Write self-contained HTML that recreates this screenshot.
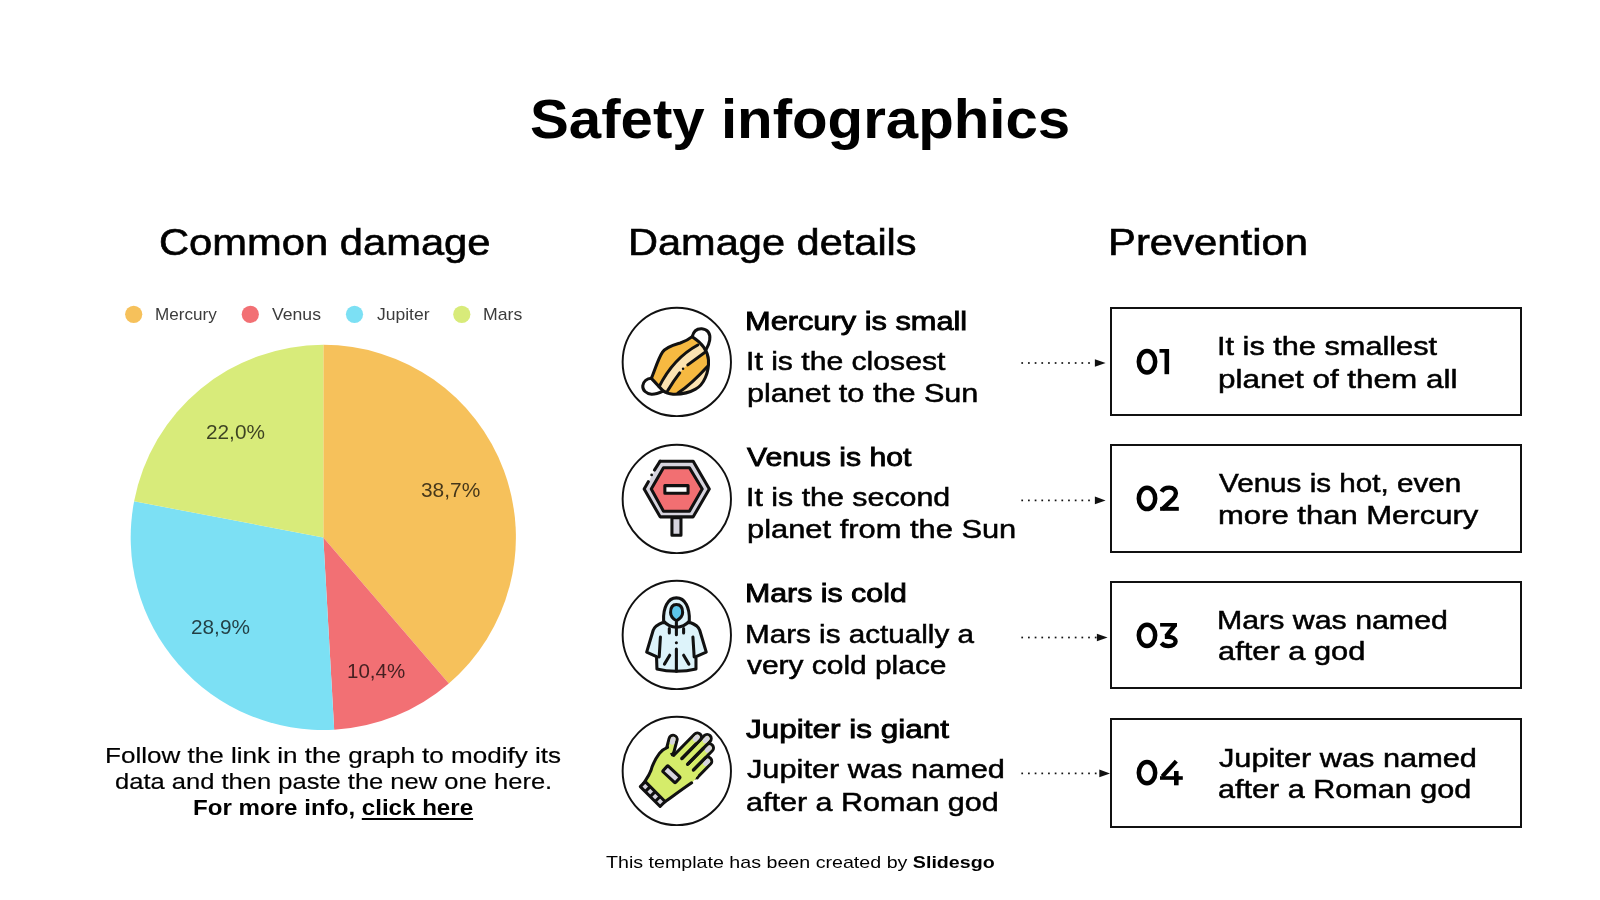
<!DOCTYPE html><html><head><meta charset="utf-8"><style>
*{margin:0;padding:0;box-sizing:border-box}
html,body{width:1600px;height:900px;overflow:hidden;background:#fff}
body{position:relative;font-family:"Liberation Sans",sans-serif;color:#000}
.t{position:absolute;white-space:nowrap;line-height:1;transform-origin:0 0;will-change:transform}
.box{position:absolute;border:2px solid #111;background:#fff}
.ic{position:absolute;width:125px;height:125px}
svg{display:block}
u{text-decoration-thickness:2px;text-underline-offset:3px}
</style></head><body><svg style="position:absolute;left:0;top:0" width="1600" height="900"><path d="M323.30 537.40 L323.30 344.80 A192.6 192.6 0 0 1 448.84 683.46 Z" fill="#F6C15B"/><path d="M323.30 537.40 L448.84 683.46 A192.6 192.6 0 0 1 334.19 729.69 Z" fill="#F27074"/><path d="M323.30 537.40 L334.19 729.69 A192.6 192.6 0 0 1 134.11 501.31 Z" fill="#7CE0F4"/><path d="M323.30 537.40 L134.11 501.31 A192.6 192.6 0 0 1 323.30 344.80 Z" fill="#D8EB7A"/><circle cx="133.7" cy="314.3" r="8.6" fill="#F6C15B"/><circle cx="250.3" cy="314.3" r="8.6" fill="#F27074"/><circle cx="354.5" cy="314.3" r="8.6" fill="#7CE0F4"/><circle cx="461.8" cy="314.3" r="8.6" fill="#D8EB7A"/></svg>
<div class="box" style="left:1110px;top:306.9px;width:412px;height:109.6px"></div>
<div class="box" style="left:1110px;top:444.0px;width:412px;height:108.5px"></div>
<div class="box" style="left:1110px;top:580.9px;width:412px;height:108.6px"></div>
<div class="box" style="left:1110px;top:717.5px;width:412px;height:110.0px"></div>
<svg style="position:absolute;left:0;top:0" width="1600" height="900"><rect x="1021.35" y="362.15" width="1.7" height="1.7" fill="#111"/><rect x="1028.03" y="362.15" width="1.7" height="1.7" fill="#111"/><rect x="1034.71" y="362.15" width="1.7" height="1.7" fill="#111"/><rect x="1041.39" y="362.15" width="1.7" height="1.7" fill="#111"/><rect x="1048.07" y="362.15" width="1.7" height="1.7" fill="#111"/><rect x="1054.75" y="362.15" width="1.7" height="1.7" fill="#111"/><rect x="1061.43" y="362.15" width="1.7" height="1.7" fill="#111"/><rect x="1068.11" y="362.15" width="1.7" height="1.7" fill="#111"/><rect x="1074.79" y="362.15" width="1.7" height="1.7" fill="#111"/><rect x="1081.47" y="362.15" width="1.7" height="1.7" fill="#111"/><rect x="1088.15" y="362.15" width="1.7" height="1.7" fill="#111"/><path d="M1094.9 359.2 L1105.6 363.0 L1094.9 366.8 Z" fill="#111"/><rect x="1021.35" y="499.55" width="1.7" height="1.7" fill="#111"/><rect x="1028.03" y="499.55" width="1.7" height="1.7" fill="#111"/><rect x="1034.71" y="499.55" width="1.7" height="1.7" fill="#111"/><rect x="1041.39" y="499.55" width="1.7" height="1.7" fill="#111"/><rect x="1048.07" y="499.55" width="1.7" height="1.7" fill="#111"/><rect x="1054.75" y="499.55" width="1.7" height="1.7" fill="#111"/><rect x="1061.43" y="499.55" width="1.7" height="1.7" fill="#111"/><rect x="1068.11" y="499.55" width="1.7" height="1.7" fill="#111"/><rect x="1074.79" y="499.55" width="1.7" height="1.7" fill="#111"/><rect x="1081.47" y="499.55" width="1.7" height="1.7" fill="#111"/><rect x="1088.15" y="499.55" width="1.7" height="1.7" fill="#111"/><path d="M1094.9 496.6 L1105.6 500.4 L1094.9 504.2 Z" fill="#111"/><rect x="1021.35" y="636.65" width="1.7" height="1.7" fill="#111"/><rect x="1028.03" y="636.65" width="1.7" height="1.7" fill="#111"/><rect x="1034.71" y="636.65" width="1.7" height="1.7" fill="#111"/><rect x="1041.39" y="636.65" width="1.7" height="1.7" fill="#111"/><rect x="1048.07" y="636.65" width="1.7" height="1.7" fill="#111"/><rect x="1054.75" y="636.65" width="1.7" height="1.7" fill="#111"/><rect x="1061.43" y="636.65" width="1.7" height="1.7" fill="#111"/><rect x="1068.11" y="636.65" width="1.7" height="1.7" fill="#111"/><rect x="1074.79" y="636.65" width="1.7" height="1.7" fill="#111"/><rect x="1081.47" y="636.65" width="1.7" height="1.7" fill="#111"/><rect x="1088.15" y="636.65" width="1.7" height="1.7" fill="#111"/><rect x="1094.83" y="636.65" width="1.7" height="1.7" fill="#111"/><path d="M1096.9 633.7 L1107.6 637.5 L1096.9 641.3 Z" fill="#111"/><rect x="1021.35" y="772.55" width="1.7" height="1.7" fill="#111"/><rect x="1028.03" y="772.55" width="1.7" height="1.7" fill="#111"/><rect x="1034.71" y="772.55" width="1.7" height="1.7" fill="#111"/><rect x="1041.39" y="772.55" width="1.7" height="1.7" fill="#111"/><rect x="1048.07" y="772.55" width="1.7" height="1.7" fill="#111"/><rect x="1054.75" y="772.55" width="1.7" height="1.7" fill="#111"/><rect x="1061.43" y="772.55" width="1.7" height="1.7" fill="#111"/><rect x="1068.11" y="772.55" width="1.7" height="1.7" fill="#111"/><rect x="1074.79" y="772.55" width="1.7" height="1.7" fill="#111"/><rect x="1081.47" y="772.55" width="1.7" height="1.7" fill="#111"/><rect x="1088.15" y="772.55" width="1.7" height="1.7" fill="#111"/><rect x="1094.83" y="772.55" width="1.7" height="1.7" fill="#111"/><path d="M1099.3 769.6 L1110.0 773.4 L1099.3 777.2 Z" fill="#111"/></svg>
<svg style="position:absolute;left:0;top:0" width="1600" height="900"><ellipse cx="1147" cy="361.70" rx="8.2" ry="10.70" fill="none" stroke="#000" stroke-width="4.5"/><rect x="1164.5" y="349" width="4.6" height="25.2"/><rect x="1159.5" y="349" width="9.5" height="3.7"/><ellipse cx="1147" cy="498.43" rx="8.2" ry="10.68" fill="none" stroke="#000" stroke-width="4.5"/><path d="M1161.6 491.8 C1163 488.9 1166 487.6 1169.2 487.6 C1173.6 487.6 1175.9 490.2 1175.9 493.3 C1175.9 495.3 1175 497 1173 499 L1162.4 509.2" fill="none" stroke="#000" stroke-width="4.4"/><rect x="1160.1" y="506.9" width="18.7" height="3.9"/><ellipse cx="1147" cy="635.35" rx="8.2" ry="10.65" fill="none" stroke="#000" stroke-width="4.5"/><rect x="1160.1" y="623" width="16.9" height="3.6"/><path d="M1171.4 626 L1177 626 L1170.2 634.8 L1164.8 638.8 L1164.8 634.6 Z"/><path d="M1165 636.8 L1168.5 636.8 C1172.8 636.8 1175.6 638.9 1175.6 641.5 C1175.6 644.2 1172.8 646.1 1168.5 646.1 C1165.5 646.1 1163 645 1161.3 643" fill="none" stroke="#000" stroke-width="4.3"/><ellipse cx="1147" cy="772.65" rx="8.2" ry="10.65" fill="none" stroke="#000" stroke-width="4.5"/><path d="M1176.3 761.2 L1162.3 776.5" fill="none" stroke="#000" stroke-width="4.2"/><rect x="1160" y="776.2" width="22.8" height="3.6"/><rect x="1174" y="771" width="4.6" height="14.3"/></svg>
<svg class="ic" style="left:615px;top:300px" viewBox="0 0 900 900"><circle cx="445" cy="446" r="390" fill="#fff" stroke="#111" stroke-width="14"/>
<defs><clipPath id="mclip"><path d="M262 564 C285 510 312 420 342 376 C372 335 430 322 470 310 C505 298 530 285 556 264 C612 300 668 350 673 432 C678 520 640 610 580 642 C540 665 480 680 418 678 C390 676 362 666 346 654 Z"/></clipPath></defs>
<path d="M262 564 C285 510 312 420 342 376 C372 335 430 322 470 310 C505 298 530 285 556 264 C612 300 668 350 673 432 C678 520 640 610 580 642 C540 665 480 680 418 678 C390 676 362 666 346 654 Z" fill="#F6B941"/>
<g clip-path="url(#mclip)">
  <path d="M290 680 L318 624 Q420 420 596 324 L720 250 L700 340 L646 378 L526 465 L490 495 L466 525 L379 654 L340 700 Z" fill="#FCE3B1"/>
  <path d="M454 669 Q545 610 664 480 L740 440 L740 740 L420 740 Z" fill="#FCE3B1"/>
</g>
<g stroke="#111" stroke-width="22" stroke-linecap="round" stroke-linejoin="round" fill="none">
  <path d="M318 624 Q420 420 596 324"/>
  <path d="M379 654 Q420 585 466 525"/>
  <path d="M524 467 L646 378"/>
  <path d="M454 669 Q545 610 664 480"/>
  <path d="M262 564 C285 510 312 420 342 376 C372 335 430 322 470 310 C505 298 530 285 556 264 C612 300 668 350 673 432 C678 520 640 610 580 642 C540 665 480 680 418 678 C390 676 362 666 346 654 Z"/>
  <path d="M556 264 C565 225 590 205 625 207 C665 210 690 240 682 288 C678 315 668 335 657 354"/>
  <path d="M262 564 C230 565 205 585 200 618 C198 650 225 675 262 678 C290 680 320 668 346 656"/>
</g>
<circle cx="490" cy="495" r="9" fill="#111"/>
</svg>
<svg class="ic" style="left:615px;top:437px" viewBox="0 0 900 900"><circle cx="445" cy="446" r="390" fill="#fff" stroke="#111" stroke-width="14"/>
<g stroke="#111" stroke-width="22" stroke-linejoin="round" stroke-linecap="round">
  <rect x="410" y="582" width="65" height="126" fill="#D6D4DE"/>
  <path d="M325 174 L563 174 L679 374 L563 575 L325 575 L210 374 Z" fill="#D6D4DE" stroke="none"/>
  <path d="M325 174 L563 174 L679 374 L563 575 L325 575 L210 374 L240 322" fill="none"/>
  <path d="M325 174 L284 238" fill="none"/>
  <path d="M349 221 L536 221 L628 374 L536 534 L349 534 L261 374 Z" fill="#F26F72"/>
  <rect x="359" y="350" width="167" height="55" fill="#fff"/>
</g>
<circle cx="264" cy="273" r="10" fill="#111"/>
</svg>
<svg class="ic" style="left:615px;top:573px" viewBox="0 0 900 900"><circle cx="445" cy="446" r="390" fill="#fff" stroke="#111" stroke-width="14"/>
<g stroke="#111" stroke-width="22" stroke-linejoin="round" stroke-linecap="round">
  <path d="M340 358 C320 365 310 372 298 381 C285 392 280 400 275 412 L228 570 L299 602 L302 691 C350 703 400 707 442 707 C485 707 535 703 583 691 L583 602 L657 570 L610 412 C605 400 600 392 588 381 C575 372 565 365 545 358 Z" fill="#DDF3FA"/>
  <path d="M350 345 C345 250 380 179 442 179 C505 179 540 250 535 345 C510 375 470 390 442 390 C415 390 375 375 350 345 Z" fill="#DDF3FA"/>
  <path d="M442 227 C475 227 487 255 487 285 C487 310 465 332 442 344 C420 332 400 310 400 285 C400 255 410 227 442 227 Z" fill="#5DC6EA"/>
  <path d="M442 355 L442 445 M442 547 L442 707 M391 400 L391 432 M494 400 L494 432 M394 592 L356 656 M494 592 L532 656 M327 461 L318 605 M561 461 L570 605" fill="none"/>
</g>
<circle cx="442" cy="502" r="11" fill="#111"/>
</svg>
<svg class="ic" style="left:615px;top:709px" viewBox="0 0 900 900"><circle cx="445" cy="446" r="390" fill="#fff" stroke="#111" stroke-width="14"/><path d="M577.8 467.1 L667.4 375.7" stroke="#111" stroke-width="80" stroke-linecap="round"/><path d="M577.8 467.1 L667.4 375.7" stroke="#D5EC6A" stroke-width="36" stroke-linecap="round"/><path d="M652.0 391.5 L667.4 375.7" stroke="#D6D4DE" stroke-width="36" stroke-linecap="round"/><path d="M529.4 433.7 L679.9 280.2" stroke="#111" stroke-width="80" stroke-linecap="round"/><path d="M529.4 433.7 L679.9 280.2" stroke="#D5EC6A" stroke-width="36" stroke-linecap="round"/><path d="M664.5 295.9 L679.9 280.2" stroke="#D6D4DE" stroke-width="36" stroke-linecap="round"/><path d="M487.3 392.4 L663.7 212.5" stroke="#111" stroke-width="80" stroke-linecap="round"/><path d="M487.3 392.4 L663.7 212.5" stroke="#D5EC6A" stroke-width="36" stroke-linecap="round"/><path d="M648.3 228.2 L663.7 212.5" stroke="#D6D4DE" stroke-width="36" stroke-linecap="round"/><path d="M431.9 366.1 L592.9 201.8" stroke="#111" stroke-width="80" stroke-linecap="round"/><path d="M431.9 366.1 L592.9 201.8" stroke="#D5EC6A" stroke-width="36" stroke-linecap="round"/><path d="M577.5 217.5 L592.9 201.8" stroke="#D6D4DE" stroke-width="36" stroke-linecap="round"/><path d="M397.0 300.0 L418.0 218.0" stroke="#111" stroke-width="80" stroke-linecap="round"/><path d="M397.0 300.0 L418.0 218.0" stroke="#D5EC6A" stroke-width="36" stroke-linecap="round"/><path d="M412.5 239.3 L418.0 218.0" stroke="#D6D4DE" stroke-width="36" stroke-linecap="round"/><path d="M473.5 350.8 L598.4 473.3 L575 510 L552 531 L360 666 L218 523 L250 477 C265 430 280 395 300 355 C320 320 345 295 380 285 L405 338 L440 352 Z" fill="#D5EC6A"/><g stroke="#111" stroke-width="22" stroke-linecap="round" stroke-linejoin="round" fill="none"><path d="M205 537 C225 505 245 480 258 445 C270 400 290 360 320 320 C335 300 355 285 378 276"/><path d="M350 675 C420 625 480 580 552 531"/><path d="M480.6 357.8 L581.4 255.0 M522.0 398.4 L634.0 284.2 M564.1 439.7 L650.9 351.2"/></g><path d="M182.3 558.7 L217.7 523.3 L360.4 666.3 L325 701.7 Z" fill="#D6D4DE" stroke="#111" stroke-width="22" stroke-linejoin="round"/><path d="M217.7 594.8 L253.7 558.8" stroke="#111" stroke-width="22"/><path d="M253.4 630.5 L289.4 594.5" stroke="#111" stroke-width="22"/><path d="M289.0 666.2 L325.0 630.2" stroke="#111" stroke-width="22"/><rect x="-62" y="-28" width="124" height="56" rx="8" transform="translate(406 470) rotate(43)" fill="#D6D4DE" stroke="#111" stroke-width="22"/><circle cx="593" cy="497" r="10" fill="#111"/></svg>
<div class="t" style="left:530.28px;top:92.30px;font-size:55px;font-weight:700;color:#000;transform:scaleX(1.0585);">Safety infographics</div>
<div class="t" style="left:158.84px;top:225.00px;font-size:36px;font-weight:400;color:#000;transform:scaleX(1.1585);-webkit-text-stroke:0.6px #000;">Common damage</div>
<div class="t" style="left:627.69px;top:224.50px;font-size:36px;font-weight:400;color:#000;transform:scaleX(1.1538);-webkit-text-stroke:0.6px #000;">Damage details</div>
<div class="t" style="left:1108.38px;top:224.70px;font-size:36px;font-weight:400;color:#000;transform:scaleX(1.1625);-webkit-text-stroke:0.6px #000;">Prevention</div>
<div class="t" style="left:155.00px;top:306.20px;font-size:17px;font-weight:400;color:#3c3c3c;transform:scaleX(1.0049);">Mercury</div>
<div class="t" style="left:272.30px;top:306.20px;font-size:17px;font-weight:400;color:#3c3c3c;transform:scaleX(1.0362);">Venus</div>
<div class="t" style="left:376.50px;top:306.20px;font-size:17px;font-weight:400;color:#3c3c3c;transform:scaleX(1.0294);">Jupiter</div>
<div class="t" style="left:482.76px;top:306.20px;font-size:17px;font-weight:400;color:#3c3c3c;transform:scaleX(1.0389);">Mars</div>
<div class="t" style="left:206.19px;top:422.00px;font-size:20.5px;font-weight:400;color:rgba(0,0,0,0.72);transform:scaleX(1.0140);">22,0%</div>
<div class="t" style="left:420.88px;top:480.00px;font-size:20.5px;font-weight:400;color:rgba(0,0,0,0.72);transform:scaleX(1.0193);">38,7%</div>
<div class="t" style="left:190.89px;top:616.75px;font-size:20.5px;font-weight:400;color:rgba(0,0,0,0.72);transform:scaleX(1.0140);">28,9%</div>
<div class="t" style="left:347.00px;top:660.50px;font-size:20.5px;font-weight:400;color:rgba(0,0,0,0.72);transform:scaleX(1.0000);">10,4%</div>
<div class="t" style="left:745.43px;top:308.00px;font-size:26px;font-weight:400;color:#000;transform:scaleX(1.1832);-webkit-text-stroke:0.85px #000;">Mercury is small</div>
<div class="t" style="left:746.18px;top:348.20px;font-size:26px;font-weight:400;color:#000;transform:scaleX(1.1594);-webkit-text-stroke:0.5px #000;">It is the closest</div>
<div class="t" style="left:747.32px;top:380.00px;font-size:26px;font-weight:400;color:#000;transform:scaleX(1.1769);-webkit-text-stroke:0.5px #000;">planet to the Sun</div>
<div class="t" style="left:747.30px;top:444.00px;font-size:26px;font-weight:400;color:#000;transform:scaleX(1.1613);-webkit-text-stroke:0.85px #000;">Venus is hot</div>
<div class="t" style="left:746.16px;top:484.40px;font-size:26px;font-weight:400;color:#000;transform:scaleX(1.1680);-webkit-text-stroke:0.5px #000;">It is the second</div>
<div class="t" style="left:747.31px;top:515.60px;font-size:26px;font-weight:400;color:#000;transform:scaleX(1.1867);-webkit-text-stroke:0.5px #000;">planet from the Sun</div>
<div class="t" style="left:744.57px;top:580.20px;font-size:26px;font-weight:400;color:#000;transform:scaleX(1.1662);-webkit-text-stroke:0.85px #000;">Mars is cold</div>
<div class="t" style="left:745.22px;top:620.90px;font-size:26px;font-weight:400;color:#000;transform:scaleX(1.1402);-webkit-text-stroke:0.5px #000;">Mars is actually a</div>
<div class="t" style="left:747.00px;top:652.40px;font-size:26px;font-weight:400;color:#000;transform:scaleX(1.1503);-webkit-text-stroke:0.5px #000;">very cold place</div>
<div class="t" style="left:746.00px;top:716.00px;font-size:26px;font-weight:400;color:#000;transform:scaleX(1.2107);-webkit-text-stroke:0.85px #000;">Jupiter is giant</div>
<div class="t" style="left:746.50px;top:756.40px;font-size:26px;font-weight:400;color:#000;transform:scaleX(1.1820);-webkit-text-stroke:0.5px #000;">Jupiter was named</div>
<div class="t" style="left:745.83px;top:789.00px;font-size:26px;font-weight:400;color:#000;transform:scaleX(1.1737);-webkit-text-stroke:0.5px #000;">after a Roman god</div>
<div class="t" style="left:1216.64px;top:333.40px;font-size:26px;font-weight:400;color:#000;transform:scaleX(1.1805);-webkit-text-stroke:0.5px #000;">It is the smallest</div>
<div class="t" style="left:1217.79px;top:365.50px;font-size:26px;font-weight:400;color:#000;transform:scaleX(1.2092);-webkit-text-stroke:0.5px #000;">planet of them all</div>
<div class="t" style="left:1219.00px;top:469.60px;font-size:26px;font-weight:400;color:#000;transform:scaleX(1.1403);-webkit-text-stroke:0.5px #000;">Venus is hot, even</div>
<div class="t" style="left:1217.81px;top:502.00px;font-size:26px;font-weight:400;color:#000;transform:scaleX(1.1927);-webkit-text-stroke:0.5px #000;">more than Mercury</div>
<div class="t" style="left:1216.67px;top:607.00px;font-size:26px;font-weight:400;color:#000;transform:scaleX(1.1662);-webkit-text-stroke:0.5px #000;">Mars was named</div>
<div class="t" style="left:1217.81px;top:638.00px;font-size:26px;font-weight:400;color:#000;transform:scaleX(1.1852);-webkit-text-stroke:0.5px #000;">after a god</div>
<div class="t" style="left:1219.00px;top:744.50px;font-size:26px;font-weight:400;color:#000;transform:scaleX(1.1820);-webkit-text-stroke:0.5px #000;">Jupiter was named</div>
<div class="t" style="left:1217.82px;top:776.00px;font-size:26px;font-weight:400;color:#000;transform:scaleX(1.1761);-webkit-text-stroke:0.5px #000;">after a Roman god</div>
<div class="t" style="left:105.13px;top:744.50px;font-size:22px;font-weight:400;color:#000;transform:scaleX(1.1841);-webkit-text-stroke:0.2px #000;">Follow the link in the graph to modify its</div>
<div class="t" style="left:115.34px;top:770.70px;font-size:22px;font-weight:400;color:#000;transform:scaleX(1.1604);-webkit-text-stroke:0.2px #000;">data and then paste the new one here.</div>
<div class="t" style="left:193.40px;top:797.00px;font-size:22px;font-weight:700;color:#000;transform:scaleX(1.0961);">For more info, <u>click here</u></div>
<div class="t" style="left:605.75px;top:853.60px;font-size:17px;font-weight:400;color:#000;transform:scaleX(1.1555);">This template has been created by <b>Slidesgo</b></div></body></html>
